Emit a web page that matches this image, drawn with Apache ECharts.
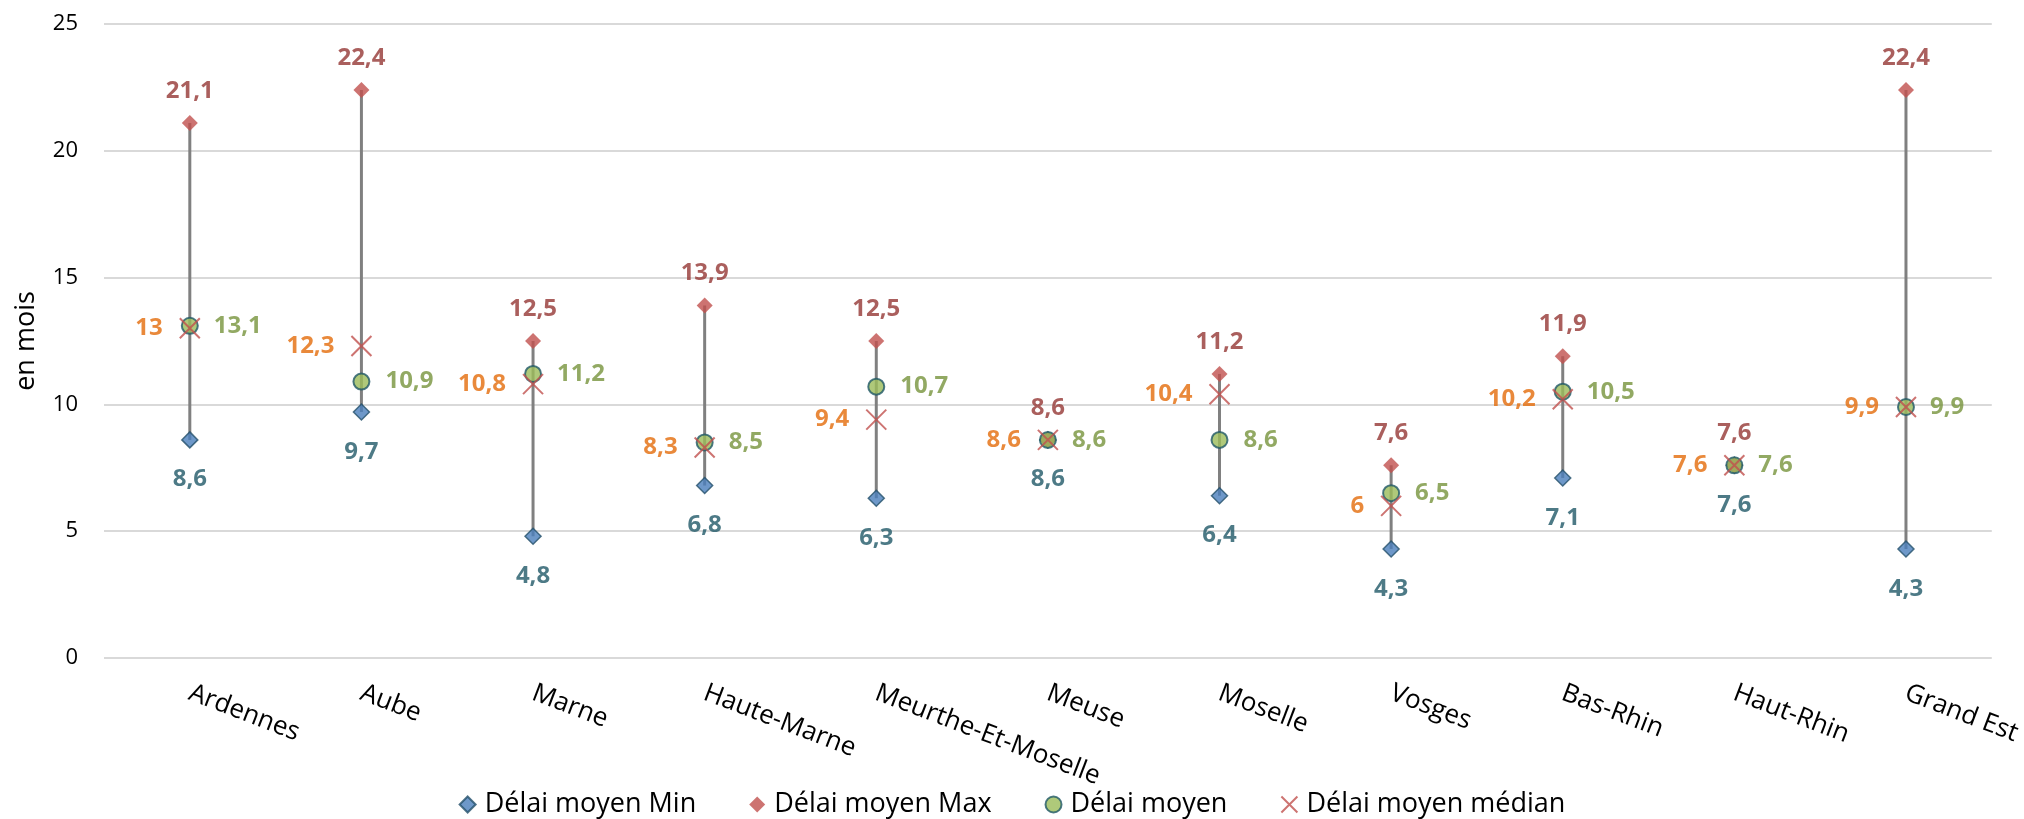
<!DOCTYPE html>
<html>
<head>
<meta charset="utf-8">
<script src="https://cdn.jsdelivr.net/npm/echarts@6/dist/echarts.min.js"></script>
<style>
html,body{margin:0;padding:0;background:#fff;}
#chart{width:2024px;height:819px;}
</style>
</head>
<body>
<div id="chart"></div>
<script>
const categories = ['Ardennes','Aube','Marne','Haute-Marne','Meurthe-Et-Moselle','Meuse','Moselle','Vosges','Bas-Rhin','Haut-Rhin','Grand Est'];
const minValues = [8.6, 9.7, 4.8, 6.8, 6.3, 8.6, 6.4, 4.3, 7.1, 7.6, 4.3];
const maxValues = [21.1, 22.4, 12.5, 13.9, 12.5, 8.6, 11.2, 7.6, 11.9, 7.6, 22.4];
const meanValues = [13.1, 10.9, 11.2, 8.5, 10.7, 8.6, 8.6, 6.5, 10.5, 7.6, 9.9];
const medianValues = [13, 12.3, 10.8, 8.3, 9.4, 8.6, 10.4, 6, 10.2, 7.6, 9.9];
const seriesNames = ['Délai moyen Min', 'Délai moyen Max', 'Délai moyen', 'Délai moyen médian'];
const yAxisName = 'en mois';

const FONT = '"Open Sans", "Noto Sans", sans-serif';
const fmt = p => String(p.value).replace('.', ',');
const labelStyle = (color, position, distance) => ({
  show: true, position: position, distance: distance, formatter: fmt,
  color: color, fontFamily: FONT, fontWeight: 'bold', fontSize: 24
});

const rangeData = categories.map((c, i) => [i, minValues[i], maxValues[i]]);
const X_PATH = 'path://M0,0L20,20M20,0L0,20';

const chart = echarts.init(document.getElementById('chart'), null, {renderer: 'canvas'});
chart.setOption({
  animation: false,
  backgroundColor: '#ffffff',
  grid: {left: 104, right: 27, top: 24, bottom: 161},
  legend: {
    data: seriesNames,
    left: 'center',
    top: 786,
    itemWidth: 16,
    itemHeight: 16,
    itemGap: 53,
    textStyle: {fontFamily: FONT, fontSize: 27, color: '#000', padding: [0, 0, 0, 4]}
  },
  xAxis: {
    type: 'category',
    data: categories,
    axisLine: {show: false},
    axisTick: {show: false},
    axisLabel: {rotate: -21, margin: 34, fontFamily: FONT, fontSize: 26, color: '#000', interval: 0}
  },
  yAxis: {
    type: 'value',
    min: 0, max: 25, interval: 5,
    name: yAxisName,
    nameLocation: 'middle',
    nameGap: 64,
    nameRotate: 90,
    nameTextStyle: {fontFamily: FONT, fontSize: 27, color: '#000'},
    axisLine: {show: false},
    axisTick: {show: false},
    axisLabel: {margin: 26, fontFamily: FONT, fontSize: 22, color: '#000'},
    splitLine: {lineStyle: {color: '#D9D9D9', width: 2}}
  },
  series: [
    {
      type: 'custom',
      name: 'range',
      z: 1,
      silent: true,
      data: rangeData,
      renderItem: function (params, api) {
        const p1 = api.coord([api.value(0), api.value(1)]);
        const p2 = api.coord([api.value(0), api.value(2)]);
        return {type: 'line', shape: {x1: p1[0], y1: p1[1], x2: p2[0], y2: p2[1]},
                style: {stroke: '#808080', lineWidth: 3}};
      }
    },
    {
      type: 'scatter', name: seriesNames[0], z: 3,
      data: minValues, symbol: 'diamond', symbolSize: 16,
      itemStyle: {color: '#4A7EBB', borderColor: '#24506A', borderWidth: 1.5},
      label: labelStyle('#215968', 'bottom', 19)
    },
    {
      type: 'scatter', name: seriesNames[1], z: 3,
      data: maxValues, symbol: 'diamond', symbolSize: 16,
      itemStyle: {color: '#C0504D'},
      label: labelStyle('#953735', 'top', 12)
    },
    {
      type: 'scatter', name: seriesNames[2], z: 4,
      data: meanValues, symbol: 'circle', symbolSize: 16,
      itemStyle: {color: '#9BBB59', borderColor: '#215968', borderWidth: 2},
      label: labelStyle('#77933C', 'right', 15)
    },
    {
      type: 'scatter', name: seriesNames[3], z: 5,
      data: medianValues, symbol: X_PATH, symbolSize: 20, symbolKeepAspect: true,
      itemStyle: {color: 'rgba(0,0,0,0)', borderColor: '#C0504D', borderWidth: 2},
      label: labelStyle('#E46C0A', 'left', 16)
    }
  ]
});
</script>
</body>
</html>
